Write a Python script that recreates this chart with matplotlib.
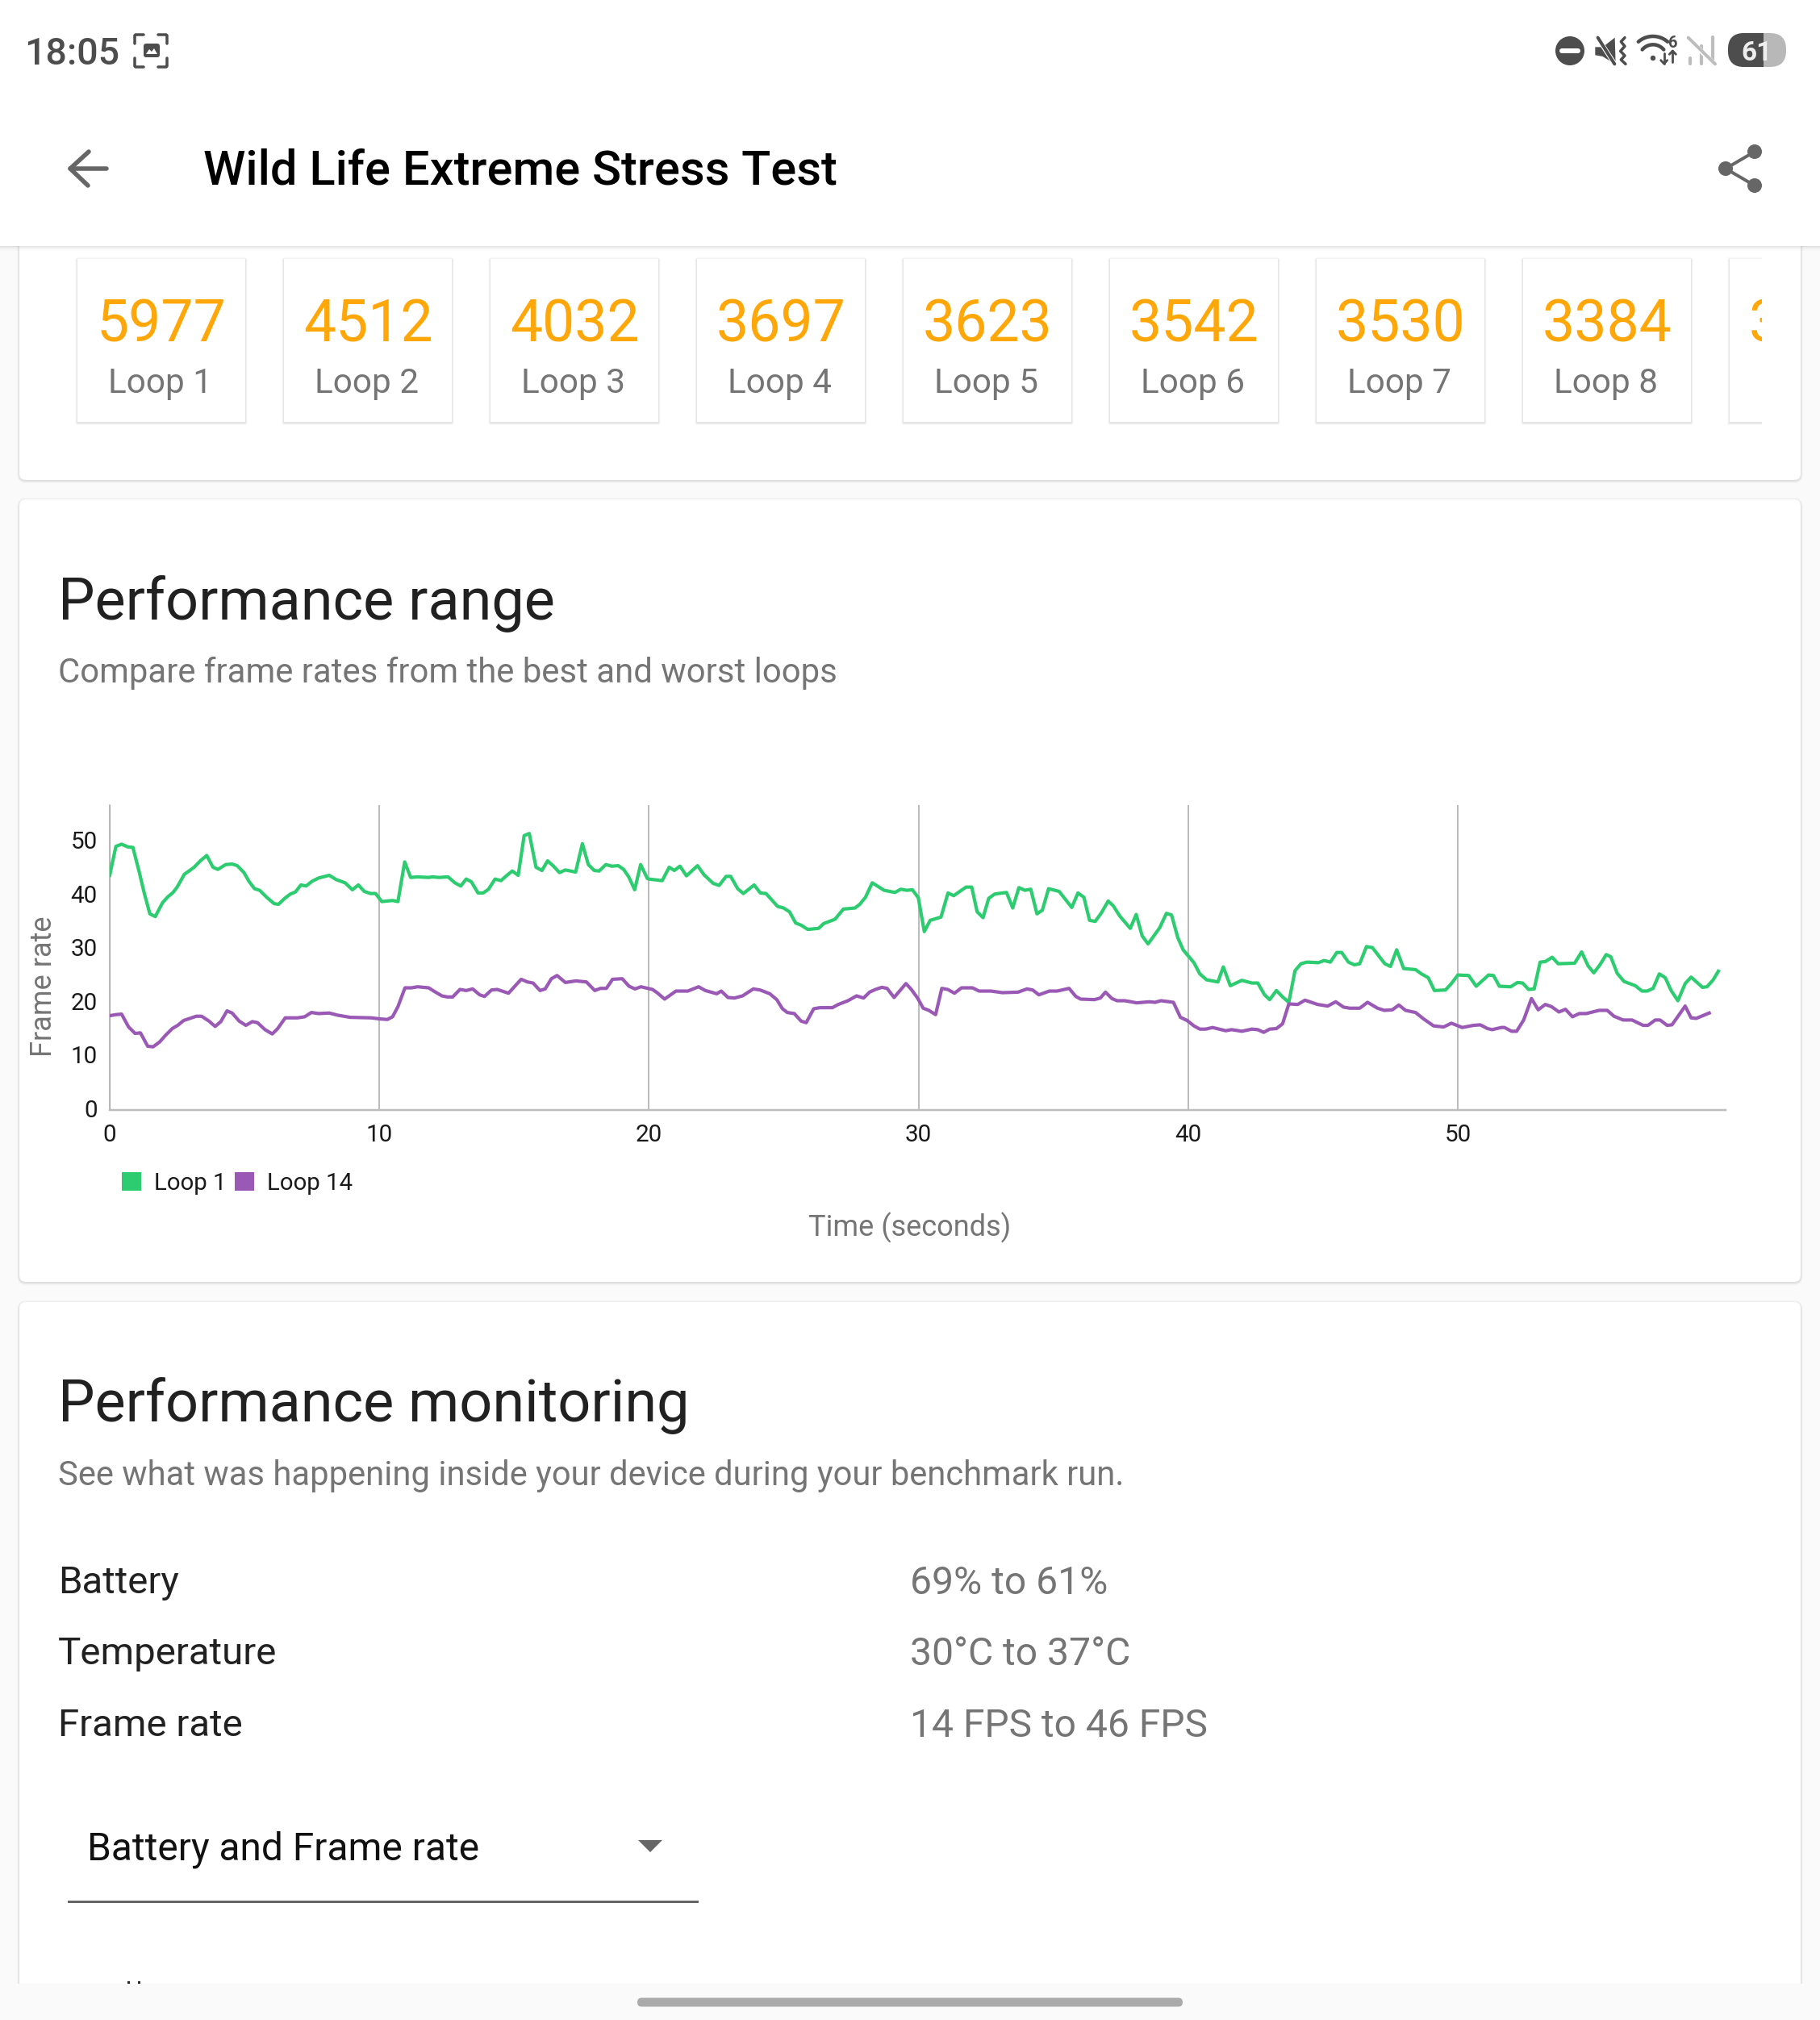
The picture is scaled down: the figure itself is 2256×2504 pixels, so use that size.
import numpy as np
import matplotlib
matplotlib.use('Agg')
from matplotlib import pyplot as plt
from matplotlib.patches import Rectangle, FancyBboxPatch, Circle, Polygon, Patch
from matplotlib.transforms import ScaledTranslation

plt.rcParams['font.family'] = ['Roboto', 'DejaVu Sans']

W, H = 2256, 2504

# chart data
loop1_t = [0.00, .23, .44, .67, .86, 1.10, 1.28, 1.49, 1.69, 1.96, 2.16, 2.35, 2.50, 2.77, 2.94, 3.13, 3.36, 3.60, 3.83, 4.01,
           4.30, 4.54, 4.73, 4.98, 5.16, 5.37, 5.56, 5.82, 6.10, 6.26, 6.49, 6.70, 6.89, 7.09, 7.28, 7.51, 7.75, 8.14, 8.40, 8.73,
           9.00, 9.22, 9.44, 9.67, 9.86, 10.09, 10.49, 10.69, 10.94, 11.16, 11.42, 11.82, 11.97, 12.21, 12.55, 12.80, 13.02, 13.22, 13.41, 13.66,
           13.85, 14.05, 14.29, 14.51, 14.71, 14.93, 15.15, 15.37, 15.56, 15.81, 16.03, 16.24, 16.46, 16.68, 16.90, 17.28, 17.53, 17.75, 17.97, 18.15,
           18.40, 18.62, 18.86, 19.06, 19.25, 19.47, 19.69, 19.94,
           20.0, 20.49, 20.75, 20.94, 21.15, 21.39, 21.80, 22.04, 22.38, 22.60, 22.86, 23.03, 23.29, 23.50, 23.90, 24.13, 24.34, 24.77, 24.99, 25.21,
           25.44, 25.64, 25.89, 26.29, 26.48, 26.90, 27.21, 27.64, 27.82, 28.03, 28.28, 28.72, 29.12, 29.34, 29.56, 29.77, 29.99, 30.21, 30.43, 30.83,
           31.09, 31.30, 31.76, 31.97, 32.17, 32.39, 32.60, 32.82, 33.26, 33.49, 33.72, 33.94, 34.16, 34.39, 34.59, 34.82, 35.21, 35.68, 35.91, 36.13,
           36.34, 36.55, 36.78, 37.03, 37.22, 37.46, 37.85, 38.07, 38.29, 38.51, 38.94, 39.19, 39.38, 39.61, 39.81,
           40.21, 40.43, 40.68, 41.10, 41.30, 41.56, 41.99, 42.36, 42.58, 42.83, 43.02, 43.27, 43.50, 43.73, 43.96, 44.18, 44.40, 44.83, 45.04, 45.27,
           45.51, 45.69, 45.94, 46.16, 46.36, 46.61, 46.83, 47.29, 47.50, 47.73, 47.99, 48.43, 48.65, 48.90, 49.13, 49.54, 49.76, 50.00, 50.40, 50.68,
           51.14, 51.32, 51.54, 51.96, 52.21, 52.40, 52.62, 52.83, 53.05, 53.24, 53.50, 53.72, 54.33, 54.59, 54.83, 55.04, 55.27, 55.50, 55.67, 55.91,
           56.16, 56.58, 56.83, 57.02, 57.24, 57.47, 57.69, 57.91, 58.16, 58.43, 58.65, 59.07, 59.24, 59.47, 59.66]
loop1_fps = [43.8, 49.2, 49.6, 49.1, 49.0, 44.3, 40.5, 36.6, 36.1, 38.7, 39.8, 40.6, 41.6, 44.0, 44.6, 45.3, 46.5, 47.5, 45.3, 44.9,
             45.8, 45.9, 45.6, 44.3, 42.7, 41.3, 41.0, 39.7, 38.5, 38.4, 39.5, 40.3, 40.7, 42.0, 41.8, 42.7, 43.3, 43.8, 43.0, 42.4,
             41.1, 42.0, 40.8, 40.4, 40.4, 38.9, 39.1, 38.9, 46.3, 43.4, 43.5, 43.4, 43.5, 43.4, 43.5, 42.4, 41.8, 43.1, 42.6, 40.5,
             40.5, 41.2, 43.1, 42.8, 43.7, 44.6, 43.8, 51.2, 51.6, 45.3, 44.7, 46.5, 45.5, 44.3, 44.8, 44.4, 49.7, 45.8, 44.7, 44.6,
             45.8, 45.5, 45.6, 44.9, 43.5, 41.1, 45.8, 43.2,
             43.1, 42.8, 45.3, 44.7, 45.5, 43.7, 45.6, 43.9, 42.3, 41.9, 43.6, 43.6, 41.3, 40.4, 42.0, 40.5, 40.4, 38.0, 37.7, 37.0,
             34.9, 34.5, 33.7, 33.9, 34.8, 35.6, 37.5, 37.7, 38.4, 39.7, 42.4, 41.0, 40.6, 41.2, 41.0, 41.1, 39.6, 33.3, 35.4, 36.0,
             40.5, 40.0, 41.6, 41.6, 37.0, 35.9, 39.5, 40.3, 40.6, 37.7, 41.5, 41.0, 41.2, 36.6, 37.3, 41.3, 40.8, 37.8, 40.5, 39.7,
             35.4, 35.2, 36.8, 39.0, 38.1, 36.2, 33.9, 36.5, 32.5, 31.0, 34.0, 36.7, 36.4, 32.2, 29.9,
             27.5, 25.4, 24.3, 23.9, 26.7, 23.2, 24.2, 23.7, 23.7, 21.5, 20.6, 22.3, 21.1, 20.1, 26.0, 27.3, 27.6, 27.5, 27.9, 27.6,
             29.4, 29.4, 27.6, 27.1, 27.3, 30.5, 30.3, 27.3, 26.8, 29.9, 26.4, 26.2, 25.4, 24.7, 22.3, 22.4, 23.6, 25.2, 25.1, 23.1,
             25.2, 25.1, 23.1, 23.0, 23.8, 23.7, 22.5, 22.6, 27.6, 27.7, 28.5, 27.3, 27.4, 29.5, 26.9, 25.6, 27.1, 29.0, 28.6, 25.5,
             24.0, 23.2, 22.2, 22.2, 22.7, 25.4, 24.7, 22.3, 20.4, 23.6, 24.8, 22.9, 23.0, 24.3, 25.9]

loop14_t = [0, .23, .44, .70, .94, 1.14, 1.41, 1.61, 1.85, 2.08, 2.32, 2.52, 2.74, 3.21, 3.41, 3.68, 3.91, 4.12, 4.35, 4.54,
            4.80, 5.05, 5.29, 5.48, 5.76, 6.03, 6.23, 6.51, 6.96, 7.23, 7.48, 7.75, 8.14, 8.45, 8.92, 9.70, 10.02, 10.30, 10.49, 10.69,
            10.95, 11.19, 11.42, 11.83, 12.05, 12.32, 12.52, 12.72, 12.99, 13.22, 13.46, 13.72, 13.90, 14.16, 14.37, 14.79, 15.26, 15.49, 15.70, 15.96,
            16.15, 16.38, 16.59, 16.90, 17.29, 17.68, 17.99, 18.20, 18.42, 18.65, 19.01,
            19.26, 19.48, 19.70, 20.13, 20.30, 20.58, 21.00, 21.44, 21.84, 22.09, 22.51, 22.68, 22.93, 23.17, 23.47, 23.87, 24.12, 24.48, 24.74, 24.95,
            25.13, 25.39, 25.64, 25.83, 26.11, 26.34, 26.80, 27.02, 27.38, 27.70, 27.96, 28.18, 28.40, 28.64, 28.83, 29.09, 29.53, 29.73, 29.96, 30.17,
            30.38, 30.63, 30.86, 31.08, 31.33, 31.59, 32.00, 32.24, 32.68, 33.11, 33.69, 34.02, 34.23, 34.46, 34.85, 35.14, 35.58, 35.83, 36.01, 36.52,
            36.74, 36.93, 37.17, 37.36, 37.65, 38.09, 38.55, 38.77, 38.99, 39.45, 39.71, 39.96,
            40.21, 40.43, 40.65, 40.90, 41.39, 41.61, 41.99, 42.36, 42.58, 42.80, 43.02, 43.27, 43.50, 43.73, 44.06, 44.33, 44.80, 45.17, 45.47, 45.76,
            45.99, 46.36, 46.65, 47.02, 47.27, 47.57, 47.81, 48.06, 48.43, 48.73, 49.10, 49.47, 49.76, 50.16, 50.58, 50.83, 51.10, 51.27, 51.61, 51.73,
            51.99, 52.18, 52.44, 52.73, 52.98, 53.24, 53.47, 53.75, 53.99, 54.25, 54.50, 54.76, 55.24, 55.54, 55.79, 56.13, 56.46, 56.87, 57.05, 57.32,
            57.50, 57.76, 57.94, 58.18, 58.43, 58.65, 58.84, 59.32]
loop14_fps = [17.6, 17.8, 17.9, 15.5, 14.3, 14.4, 11.9, 11.8, 12.7, 14.0, 15.2, 15.8, 16.7, 17.5, 17.5, 16.6, 15.6, 16.5, 18.5, 18.1,
              16.6, 15.8, 16.5, 16.3, 15.0, 14.2, 15.2, 17.2, 17.2, 17.4, 18.2, 18.0, 18.1, 17.7, 17.3, 17.2, 17.0, 16.9, 17.4, 19.3,
              22.8, 22.8, 23.0, 22.8, 22.1, 21.3, 21.1, 21.1, 22.5, 22.3, 22.6, 21.5, 21.2, 22.4, 22.5, 21.8, 24.4, 23.9, 23.7, 22.3,
              22.6, 24.5, 25.1, 23.8, 24.1, 23.9, 22.3, 22.7, 22.7, 24.4, 24.5,
              23.1, 22.6, 23.0, 22.5, 21.9, 20.7, 22.2, 22.2, 23.0, 22.3, 21.7, 22.2, 21.0, 20.9, 21.3, 22.6, 22.4, 21.7, 20.6, 18.9,
              18.2, 18.0, 16.6, 16.3, 18.9, 19.1, 19.1, 19.7, 20.4, 21.3, 20.9, 22.0, 22.5, 22.9, 22.7, 21.0, 23.6, 22.5, 20.9, 19.0,
              18.6, 17.8, 22.7, 22.5, 21.8, 22.8, 22.8, 22.2, 22.2, 21.9, 22.0, 22.6, 22.4, 21.5, 22.2, 22.2, 22.7, 21.2, 20.7, 20.6,
              20.9, 22.0, 20.8, 20.4, 20.4, 20.0, 20.2, 20.1, 20.4, 20.1, 17.3, 16.7,
              15.7, 15.1, 15.1, 15.4, 14.8, 15.0, 14.7, 15.1, 15.0, 14.5, 15.1, 15.2, 16.1, 19.8, 19.7, 20.5, 19.7, 19.4, 20.2, 19.2,
              19.0, 19.0, 20.1, 19.0, 18.6, 18.7, 19.6, 18.6, 18.2, 17.0, 15.7, 15.5, 16.2, 15.4, 15.8, 15.9, 15.2, 15.0, 15.4, 15.4,
              14.7, 14.7, 16.8, 20.8, 18.7, 19.7, 19.3, 18.3, 18.8, 17.4, 18.0, 18.0, 18.6, 18.6, 17.5, 16.8, 16.8, 15.8, 15.8, 16.8,
              16.8, 15.8, 15.9, 17.6, 19.4, 17.2, 17.1, 18.1]

x_ticks = [0, 10, 20, 30, 40, 50]
y_ticks = [0, 10, 20, 30, 40, 50]

scores = [5977, 4512, 4032, 3697, 3623, 3542, 3530, 3384]
loop_names = ['Loop 1', 'Loop 2', 'Loop 3', 'Loop 4', 'Loop 5', 'Loop 6', 'Loop 7', 'Loop 8']

monitor_names = ['Battery', 'Temperature', 'Frame rate']
monitor_values = ['69% to 61%', '30°C to 37°C', '14 FPS to 46 FPS']

GREEN = '#2ecc71'
PURPLE = '#9b59b6'
GREY = '#757575'
DARK = '#212121'
ICON = '#4d4d4d'
ORANGE = '#ffa708'

SHADOW = [(3, .018), (2, .03), (1, .05)]

fig = plt.figure(figsize=(W / 100, H / 100), dpi=100, facecolor='#fafafa')

# whole page is one axes in pixels, y going down
ui = fig.add_axes([0, 0, 1, 1], zorder=1)
ui.set_xlim(0, W)
ui.set_ylim(H, 0)
ui.axis('off')


def px(n):
    return n * 0.72


def soft_box(x0, y0, x1, y1, radius=0, z=1.0):
    # layers of faint grey give the material style shadow
    for grow, alpha in SHADOW:
        ui.add_patch(FancyBboxPatch((x0 - grow, y0 - grow + 1), x1 - x0 + 2 * grow, y1 - y0 + 2 * grow,
                                    boxstyle=f'round,pad=0,rounding_size={radius + grow}',
                                    fc='black', ec='none', alpha=alpha, zorder=z))
    ui.add_patch(FancyBboxPatch((x0, y0), x1 - x0, y1 - y0,
                                boxstyle=f'round,pad=0,rounding_size={max(radius, .01)}',
                                fc='white', ec='none', zorder=z + .01))


def line(xs, ys, color=ICON, w=4, z=20, cap='round'):
    ui.plot(xs, ys, color=color, lw=px(w), solid_capstyle=cap, solid_joinstyle='round', zorder=z)


def zx(v):
    # icon sketch coords, from the status bar crop
    return 1800 + np.asarray(v, dtype=float) / 3


def zy(v):
    return np.asarray(v, dtype=float) / 3


# cards
soft_box(24, 200, 2232, 595, radius=8, z=1)
soft_box(24, 619, 2232, 1589, radius=8, z=1)
soft_box(24, 1614, 2232, 2600, radius=8, z=1)

# score tiles
for i, (score, name) in enumerate(zip(scores, loop_names)):
    x0 = 96 + i * 256
    soft_box(x0, 321, x0 + 208, 523, z=2)
    ui.text(x0 + 104, 396, str(score), color=ORANGE, fontsize=51.5, ha='center', va='center_baseline', zorder=3)
    ui.text(x0 + 103, 471, name, color=GREY, fontsize=30.4, ha='center', va='center_baseline', zorder=3)

# last tile is cut off at the end of the scroll area
clip = Rectangle((2130, 300), 54, 240, transform=ui.transData)
for grow, alpha in SHADOW:
    p = Rectangle((2144 - grow, 321 - grow + 1), 208, 202 + 2 * grow, fc='black', ec='none', alpha=alpha, zorder=2)
    ui.add_patch(p)
    p.set_clip_path(clip)
p = Rectangle((2144, 321), 208, 202, fc='white', ec='none', zorder=2.01)
ui.add_patch(p)
p.set_clip_path(clip)
t = ui.text(2168, 396, '3', color=ORANGE, fontsize=51.5, ha='left', va='center_baseline', zorder=3, clip_on=True)
t.set_clip_path(clip)

# header
for k, alpha in enumerate([.10, .07, .05, .03, .02, .01]):
    ui.add_patch(Rectangle((0, 305 + k), W, 1, fc='black', ec='none', alpha=alpha, zorder=9))
ui.add_patch(Rectangle((0, 0), W, 305, fc='white', ec='none', zorder=10))
ui.text(30, 62, '18:05', color=ICON, fontsize=33.5, fontweight='medium', ha='left', va='center_baseline', zorder=20)
ui.text(252, 206, 'Wild Life Extreme Stress Test', color='black', fontsize=42.8, fontweight='medium',
        ha='left', va='center_baseline', zorder=20)

# back arrow
line([131.5, 87], [209, 209], '#666666', 5.5)
line([110, 87, 109], [188, 209, 230], '#666666', 5.5)

# share icon
line([2175, 2139, 2175], [188, 209, 230], '#666666', 4)
for cx, cy in [(2175, 188), (2139, 209), (2175, 230)]:
    ui.add_patch(Circle((cx, cy), 9, fc='#666666', ec='none', zorder=20))

# screenshot indicator
for sx, sy in [(167, 43), (207, 43), (167, 83), (207, 83)]:
    dx = 1 if sx == 167 else -1
    dy = 1 if sy == 43 else -1
    line([sx + dx * 11, sx + dx * 1, sx, sx], [sy, sy, sy + dy * 1, sy + dy * 11], ICON, 3.5)
ui.add_patch(FancyBboxPatch((178, 54), 20, 17, boxstyle='round,pad=0,rounding_size=3', fc=ICON, ec='none', zorder=20))
ui.add_patch(Polygon([[181, 67], [185, 61], [188, 64], [191, 60], [195, 67]], fc='white', ec='none', zorder=21))

# do not disturb
ui.add_patch(Circle((1946, 63), 18, fc=ICON, ec='none', zorder=20))
line([1936, 1956], [63, 63], 'white', 6, z=21)

# muted + vibrate
ui.add_patch(Polygon(np.column_stack([zx([532, 560, 605, 608, 560, 532]), zy([175, 175, 140, 240, 210, 205])]),
                     fc=ICON, ec='none', zorder=20))
line(zx([533, 607]), zy([128, 242]), 'white', 6, z=21)
line(zx([542, 604]), zy([140, 238]), ICON, 4, z=22)
line(zx([642, 628, 642, 626, 642, 628, 645]), zy([140, 155, 172, 190, 207, 222, 238]), ICON, 3.5)

# wifi
for rad, ang in [(83, 41), (52, 50)]:
    a = np.radians(np.linspace(-ang, ang, 30))
    line(zx(747 + rad * np.sin(a)), zy(218 - rad * np.cos(a)), ICON, 4.5)
ui.add_patch(Circle((zx(747), zy(216)), 3.2, fc=ICON, ec='none', zorder=20))
ui.text(zx(820), zy(155), '6', color=ICON, fontsize=14.5, fontweight='bold', ha='center', va='center_baseline', zorder=20)
line(zx([788, 788]), zy([197, 236]), ICON, 2.8)
line(zx([776, 788, 800]), zy([224, 237, 224]), ICON, 2.8)
line(zx([820, 820]), zy([230, 190]), ICON, 2.8)
line(zx([808, 820, 832]), zy([202, 189, 202]), ICON, 2.8)

# no signal
for bx, top in [(885, 215), (928, 170), (970, 138)]:
    line(zx([bx, bx]), zy([top, 236]), '#bdbdbd', 4.2)
line(zx([868, 985]), zy([132, 248]), 'white', 6, z=21)
line(zx([878, 978]), zy([140, 238]), '#bdbdbd', 4, z=22)

# battery pill, dark part stops at the level
pill = FancyBboxPatch((2142, 41), 72, 42, boxstyle='round,pad=0,rounding_size=20', fc='#b8b8b8', ec='none', zorder=20)
ui.add_patch(pill)
pill_dark = FancyBboxPatch((2142, 41), 72, 42, boxstyle='round,pad=0,rounding_size=20', fc=ICON, ec='none', zorder=21)
ui.add_patch(pill_dark)
pill_dark.set_clip_path(Rectangle((2130, 30), 56, 60, transform=ui.transData))
ui.text(2177, 62.5, '61', color='#eeeeee', fontsize=24, fontweight='bold', ha='center', va='center_baseline', zorder=22)

# card texts
ui.text(72, 740, 'Performance range', color=DARK, fontsize=51.8, ha='left', va='center_baseline', zorder=5)
ui.text(72, 830, 'Compare frame rates from the best and worst loops', color=GREY, fontsize=30.15, ha='left', va='center_baseline', zorder=5)
ui.text(72, 1735, 'Performance monitoring', color=DARK, fontsize=51.8, ha='left', va='center_baseline', zorder=5)
ui.text(72, 1825, 'See what was happening inside your device during your benchmark run.', color=GREY, fontsize=30.1,
        ha='left', va='center_baseline', zorder=5)

for row_y, name, value in zip([1958, 2046, 2135], monitor_names, monitor_values):
    ui.text(72, row_y, name, color=DARK, fontsize=34.1, ha='left', va='center_baseline', zorder=5)
    ui.text(1128, row_y, value, color=GREY, fontsize=34.6, ha='left', va='center_baseline', zorder=5)

# dropdown
ui.text(108, 2288, 'Battery and Frame rate', color='#111111', fontsize=34.5, ha='left', va='center_baseline', zorder=5)
ui.add_patch(Polygon([[791, 2281], [821, 2281], [806, 2296]], fc='#666666', ec='none', zorder=5))
ui.add_patch(Rectangle((84, 2355.5), 782, 3, fc='#666666', ec='none', zorder=5))

# tips of the next text row, everything else is under the nav bar
ui.add_patch(Rectangle((157.5, 2456), 3, 3, fc='#222222', ec='none', zorder=5))
ui.add_patch(Rectangle((170.5, 2456), 3, 3, fc='#222222', ec='none', zorder=5))

# nav bar
ui.add_patch(Rectangle((0, 2459), W, 45, fc='#fafafa', ec='none', zorder=30))
ui.add_patch(FancyBboxPatch((790, 2476.5), 676, 11, boxstyle='round,pad=0,rounding_size=5.5', fc='#aaaaaa', ec='none', zorder=31))

# the chart
left, right, top, bottom = 136, 2139, 998, 1376
ax = fig.add_axes([left / W, 1 - bottom / H, (right - left) / W, (bottom - top) / H], zorder=2)
ax.patch.set_alpha(0)
ax.plot(loop1_t, loop1_fps, color=GREEN, lw=px(4.2), solid_joinstyle='round', zorder=3)
ax.plot(loop14_t, loop14_fps, color=PURPLE, lw=px(4.2), solid_joinstyle='round', zorder=3)
ax.set_xlim(0, 59.93)
ax.set_ylim(0, 56.9)
ax.set_xticks(x_ticks)
ax.set_yticks(y_ticks)
ax.tick_params(axis='both', length=0, labelsize=21.3, labelcolor='#1a1a1a')
ax.tick_params(axis='x', pad=12.5)
ax.tick_params(axis='y', pad=11)
nudge = ScaledTranslation(0, 2.4 / 100, fig.dpi_scale_trans)
for lab in ax.get_yticklabels():
    lab.set_transform(lab.get_transform() + nudge)
ax.grid(axis='x', color='#a6a6a6', lw=px(1.5))
ax.set_axisbelow(True)
for s in ['top', 'right']:
    ax.spines[s].set_visible(False)
ax.spines['left'].set_color('#a6a6a6')
ax.spines['left'].set_linewidth(px(1.5))
ax.spines['bottom'].set_color('#bdbdbd')
ax.spines['bottom'].set_linewidth(px(2.5))

ax.set_ylabel('Frame rate', color=GREY, fontsize=26, va='center')
ax.yaxis.set_label_coords((54 - left) / (right - left), (bottom - 1223) / (bottom - top))
ax.set_xlabel('Time (seconds)', color=GREY, fontsize=26, va='center')
ax.xaxis.set_label_coords((1128 - left) / (right - left), (bottom - 1522) / (bottom - top))

handles = [Patch(fc=GREEN, ec='none', label='Loop 1'), Patch(fc=PURPLE, ec='none', label='Loop 14')]
ax.legend(handles=handles, loc='upper left', bbox_to_anchor=(151 / W, 1 - 1453 / H), bbox_transform=fig.transFigure,
          ncol=2, frameon=False, fontsize=21.2, labelcolor='#1a1a1a', borderpad=0, borderaxespad=0,
          handlelength=.82, handleheight=.82, handletextpad=.55, columnspacing=.33)

fig.savefig('out.png', dpi=100, facecolor=fig.get_facecolor())
